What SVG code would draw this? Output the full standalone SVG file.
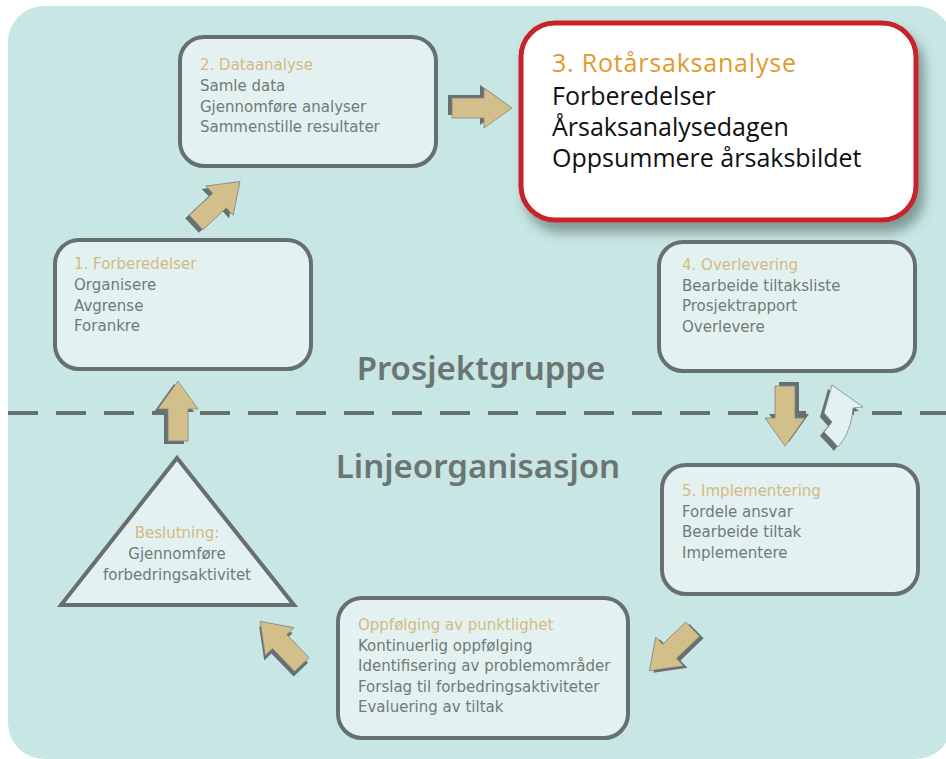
<svg xmlns="http://www.w3.org/2000/svg" width="946" height="759" viewBox="0 0 946 759">
<defs>
<style>
.node{fill:#e3f2f1;stroke:#66706e;stroke-width:4}
.t{font-family:"DejaVu Sans",sans-serif;font-size:15px;fill:#707a78}
.h{fill:#d4b983}
.big{font-family:"Open Sans","Liberation Sans",sans-serif;font-size:25px;fill:#111}
.zone{font-family:"Noto Sans","DejaVu Sans",sans-serif;font-size:33px;font-weight:600;fill:#6b7573}
.ar{fill:#d2bf8a;stroke:#7d8784;stroke-width:0.8}
.sh{fill:#66706e}
</style>
<path id="arr" d="M-30,-10 H2 V-20 L30,0 L2,20 V10 H-30 Z"/>
<filter id="ds" x="-20%" y="-20%" width="140%" height="150%">
<feDropShadow dx="6" dy="10" stdDeviation="6" flood-color="#4f6664" flood-opacity="0.6"/>
</filter>
</defs>
<rect x="8" y="6" width="944" height="753" rx="36" fill="#c8e6e4"/>
<line x1="8" y1="413" x2="946" y2="413" stroke="#66706e" stroke-width="4" stroke-dasharray="30 18"/>
<text class="zone" x="481" y="380" text-anchor="middle">Prosjektgruppe</text>
<text class="zone" x="478" y="478" text-anchor="middle">Linjeorganisasjon</text>

<g id="connectors">
<g transform="translate(478,105)"><use href="#arr" class="sh"/></g>
<g transform="translate(482,108)"><use href="#arr" class="ar"/></g>
<g transform="translate(214,205) rotate(-43)"><use href="#arr" class="sh"/></g>
<g transform="translate(218,202) rotate(-43)"><use href="#arr" class="ar"/></g>
<g transform="translate(174,414) rotate(-90)"><use href="#arr" class="sh"/></g>
<g transform="translate(178,411) rotate(-90)"><use href="#arr" class="ar"/></g>
<g transform="translate(789,412) rotate(90)"><use href="#arr" class="sh"/></g>
<g transform="translate(785,416) rotate(90)"><use href="#arr" class="ar"/></g>
<g transform="translate(675,652) rotate(136)"><use href="#arr" class="sh"/></g>
<g transform="translate(671,650) rotate(136)"><use href="#arr" class="ar"/></g>
<g transform="translate(280,648) rotate(-134)"><use href="#arr" class="sh"/></g>
<g transform="translate(281,643) rotate(-134)"><use href="#arr" class="ar"/></g>
<path d="M828,389 L859,411 L849,412 C848,428 842,441 834,451 C829,445 824,440 820,436 L828,426 L820,417 Z" fill="#66706e"/>
<path d="M832,385 L863,407 L853,408 C852,424 846,438 838,447 C833,441 828,436 824,432 L832,422 L824,413 Z" fill="#e3f2f1" stroke="#7d8784" stroke-width="0.8"/>
</g>

<g id="node2">
<rect class="node" x="180" y="37" width="256" height="129" rx="24"/>
<text class="t" x="200" y="70"><tspan class="h">2. Dataanalyse</tspan><tspan x="200" dy="21">Samle data</tspan><tspan x="200" dy="20.5">Gjennomføre analyser</tspan><tspan x="200" dy="20.5">Sammenstille resultater</tspan></text>
</g>

<g id="node3">
<rect x="521" y="23" width="395" height="197" rx="34" fill="#fff" stroke="#c8202a" stroke-width="5" filter="url(#ds)"/>
<text class="big" x="552" y="72"><tspan fill="#e09a2e" letter-spacing="0.8">3. Rotårsaksanalyse</tspan><tspan x="552" dy="33">Forberedelser</tspan><tspan x="552" dy="31">Årsaksanalysedagen</tspan><tspan x="552" dy="31">Oppsummere årsaksbildet</tspan></text>
</g>

<g id="node1">
<rect class="node" x="55" y="240" width="256" height="129" rx="24"/>
<text class="t" x="74" y="269"><tspan class="h">1. Forberedelser</tspan><tspan x="74" dy="21">Organisere</tspan><tspan x="74" dy="20.5">Avgrense</tspan><tspan x="74" dy="20.5">Forankre</tspan></text>
</g>

<g id="node4">
<rect class="node" x="659" y="242" width="256" height="129" rx="24"/>
<text class="t" x="682" y="270"><tspan class="h">4. Overlevering</tspan><tspan x="682" dy="20.5">Bearbeide tiltaksliste</tspan><tspan x="682" dy="20.5">Prosjektrapport</tspan><tspan x="682" dy="20.5">Overlevere</tspan></text>
</g>

<g id="node5">
<rect class="node" x="662" y="465" width="256" height="129" rx="24"/>
<text class="t" x="682" y="496"><tspan class="h">5. Implementering</tspan><tspan x="682" dy="20.5">Fordele ansvar</tspan><tspan x="682" dy="20.5">Bearbeide tiltak</tspan><tspan x="682" dy="20.5">Implementere</tspan></text>
</g>

<g id="node6">
<rect class="node" x="338" y="598" width="290" height="140" rx="24"/>
<text class="t" x="358" y="630"><tspan class="h">Oppfølging av punktlighet</tspan><tspan x="358" dy="20.5">Kontinuerlig oppfølging</tspan><tspan x="358" dy="20.5">Identifisering av problemområder</tspan><tspan x="358" dy="20.5">Forslag til forbedringsaktiviteter</tspan><tspan x="358" dy="20.5">Evaluering av tiltak</tspan></text>
</g>

<g id="decision">
<polygon class="node" points="177,458 61,605 294,605"/>
<text class="t" x="177" y="538" text-anchor="middle"><tspan class="h">Beslutning:</tspan><tspan x="177" dy="21">Gjennomføre</tspan><tspan x="177" dy="21">forbedringsaktivitet</tspan></text>
</g>
</svg>
